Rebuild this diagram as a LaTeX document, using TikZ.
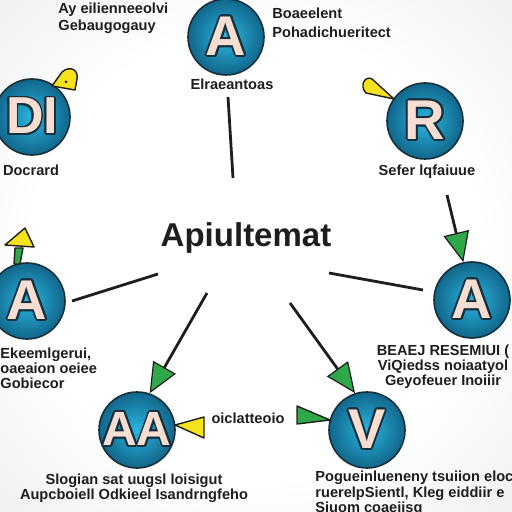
\documentclass[tikz,border=0pt]{standalone}
\usepackage{fontspec}
\setmainfont{Liberation Sans}
\usepackage[copies]{contour}
\usetikzlibrary{arrows.meta}
\definecolor{bgedge}{HTML}{DCE1E6}
\definecolor{discin}{HTML}{2AB6E0}
\definecolor{discout}{HTML}{11668B}
\definecolor{discline}{HTML}{17303C}
\definecolor{peach}{HTML}{F7DED2}
\definecolor{ink}{HTML}{1E1E1E}
\definecolor{cone}{HTML}{F6E21A}
\definecolor{arrowgreen}{HTML}{2FA84A}
\contourlength{0.9pt}
\pgfdeclareradialshading{vignette}{\pgfpoint{0bp}{0bp}}{color(0bp)=(white); color(22bp)=(white); color(50bp)=(bgedge)}
\tikzset{
    %Define round badges
    disc/.style={
           circle,
           minimum size=38pt,
           inner sep=0pt,
           draw=discline, line width=0.8pt,
           inner color=discin, outer color=discout},
    % Define letter inside a badge
    glyph/.style={
           font=\fontsize{28}{28}\selectfont\bfseries,
           text=peach, inner sep=0pt},
    % Define small captions
    lbl/.style={
           font=\fontsize{7.3}{7.6}\selectfont\bfseries,
           text=ink, inner sep=0pt},
    % Define black strokes
    ray/.style={
           draw=ink, line width=1.4pt},
    pointer/.style={
           ray,
           -{Triangle[length=15pt,width=13pt,line width=0.6pt,fill=arrowgreen]}},
    conefill/.style={
           draw=ink, line width=0.7pt, line join=round}
}
\begin{document}
\begin{tikzpicture}[x=0.5pt, y=-0.5pt]
 \clip (0,0) rectangle (512,512);
 \shade[shading=vignette] (0,0) rectangle (512,512);

 % badges
 \node[disc, label={[glyph]center:\contour{discline}{A}}] (atop) at (226,37) {};
 \node[disc, label={[glyph,font=\fontsize{26}{26}\selectfont\bfseries]center:\contour{discline}{DI}}] (dd) at (32,117) {};
 \node[disc, label={[glyph]center:\contour{discline}{R}}] (rr) at (425,121) {};
 \node[disc, label={[glyph]center:\contour{discline}{A}}] (al) at (27,301) {};
 \node[disc, label={[glyph]center:\contour{discline}{A}}] (ar) at (472,300) {};
 \node[disc, label={[glyph,font=\fontsize{24}{24}\selectfont\bfseries]center:\contour{discline}{AA}}] (aa) at (137,430) {};
 \node[disc, label={[glyph]center:\contour{discline}{V}}] (vv) at (367,430) {};

 % title
 \node[font=\fontsize{16.5}{18}\selectfont\bfseries, text=ink] (title) at (246,238) {Apiultemat};

 % captions
 \node[lbl, anchor=west] (tl1) at (58,10) {Ay eilienneeolvi};
 \node[lbl, anchor=west] (tl2) at (58,27) {Gebaugogauy};
 \node[lbl, anchor=west] (tr1) at (272,13) {Boaeelent};
 \node[lbl, anchor=west] (tr2) at (272,32) {Pohadichueritect};
 \node[lbl] (topcap) at (232,84) {Elraeantoas};
 \node[lbl] (dcap) at (31,170) {Docrard};
 \node[lbl] (rcap) at (427,172) {Sefer lqfaiuue};
 \node[lbl, anchor=west, align=left] (alcap) at (0,368) {Ekeemlgerui,\\oaeaion oeiee\\Gobiecor};
 \node[lbl, align=center] (arcap) at (443,367) {BEAEJ RESEMIUI (\\ViQiedss noiaatyol\\Geyofeuer Inoiiir};
 \node[lbl] (midcap) at (248,418) {oiclatteoio};
 \node[lbl, align=center] (aacap) at (134,488) {Slogian sat uugsl loisigut\\Aupcboiell Odkieel Isandrngfeho};
 \node[lbl, anchor=north west, align=left] (vvcap) at (315,471) {Pogueinlueneny tsuiion eloc\\ruerelpSientl, Kleg eiddiir e\\Siuom coaeiisg};

 % pointers on the badges
 \draw[conefill, fill=cone] (52,86) -- (62,72) .. controls (70,65) and (79,70) .. (77,79) -- (75,90) -- cycle;
 \fill[ink] (66,82) circle (1.5);
 \draw[conefill, fill=cone] (394,99) -- (372,79) .. controls (365,75) and (359,86) .. (366,93) -- cycle;
 \draw[conefill, fill=arrowgreen] (14,264) -- (20,264) -- (23,248) -- (15,248) -- cycle;
 \draw[conefill, fill=cone] (25,228) -- (5,245) -- (34,247) -- cycle;
 \draw[conefill, fill=cone] (175,425) -- (204,417) -- (204,438) -- cycle;
 \draw[conefill, fill=arrowgreen] (297,406) -- (330,420) -- (297,424) -- cycle;

 % connectors
 \coordinate (c1) at (228,97);
 \coordinate (c2) at (233,178);
 \coordinate (c3) at (158,274);
 \coordinate (c4) at (72,301);
 \coordinate (c5) at (329,273);
 \coordinate (c6) at (423,290);
 \coordinate (c7) at (207,293);
 \coordinate (c8) at (290,303);
 \coordinate (c9) at (447,195);
 \draw[ray] (c1) -- (c2);
 \draw[ray] (c3) -- (c4);
 \draw[ray] (c5) -- (c6);
 \draw[pointer] (c7) -- (aa.71);
 \draw[pointer] (c8) -- (vv.108);
 \draw[pointer] (c9) -- (ar.103);
\end{tikzpicture}
\end{document}
